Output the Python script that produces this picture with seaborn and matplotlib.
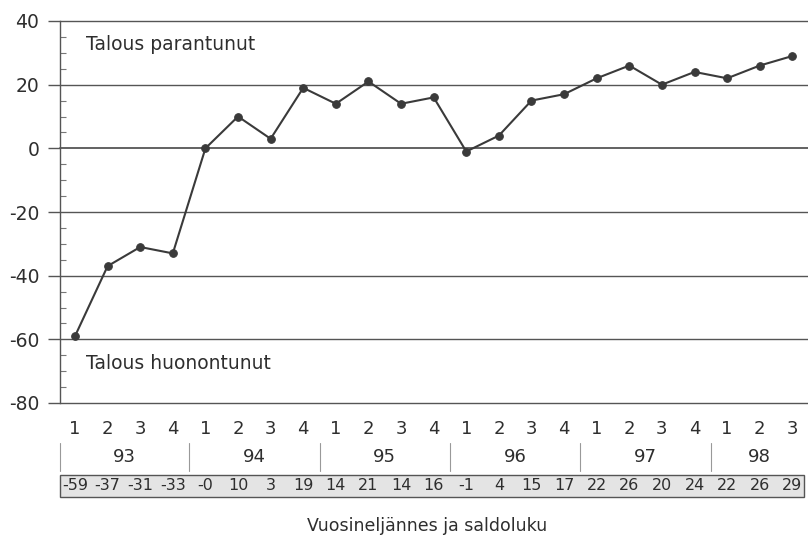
import matplotlib
matplotlib.use("Agg")
import matplotlib.pyplot as plt
import matplotlib.transforms as mtransforms
from matplotlib.patches import Rectangle
import seaborn as sns
import pandas as pd

# data
years = ["93", "94", "95", "96", "97", "98"]
quarters = [1, 2, 3, 4, 1, 2, 3, 4, 1, 2, 3, 4, 1, 2, 3, 4, 1, 2, 3, 4, 1, 2, 3]
saldo = [-59, -37, -31, -33, 0, 10, 3, 19, 14, 21, 14, 16, -1, 4, 15, 17,
         22, 26, 20, 24, 22, 26, 29]
saldo_labels = ["-59", "-37", "-31", "-33", "-0", "10", "3", "19", "14", "21", "14", "16",
                "-1", "4", "15", "17", "22", "26", "20", "24", "22", "26", "29"]

df = pd.DataFrame({"idx": range(len(saldo)), "saldo": saldo})

sns.set_style("white")
plt.rcParams['font.family'] = ['Liberation Sans Narrow', 'DejaVu Sans']
plt.rcParams['axes.unicode_minus'] = False
txt = "#2e2e2e"

fig = plt.figure(figsize=(8.08, 5.42), dpi=100)
ax = fig.add_axes([60/808, 139/542, 748/808, 382/542])

# gridlines
for y in range(-80, 41, 20):
    ax.axhline(y, color="#555555", lw=1.3 if y == 0 else 1.0, zorder=1, clip_on=False)

sns.lineplot(data=df, x="idx", y="saldo", ax=ax, color="#3a3a3a", lw=1.5,
             marker="o", markersize=5.5, markeredgecolor="#3a3a3a", zorder=3)

ax.set_xlim(-0.46, 22.48)
ax.set_ylim(-80, 40)
ax.set_yticks(range(-80, 41, 20))
ax.set_yticks(range(-80, 41, 5), minor=True)
ax.tick_params(axis="y", which="major", direction="out", length=9, width=1,
               color="#555555", labelsize=13.5, labelcolor=txt, pad=6, left=True)
ax.tick_params(axis="y", which="minor", direction="in", length=4, width=0.8,
               color="#777777", left=True)
ax.set_xticks([])
ax.set_xlabel("")
ax.set_ylabel("")
for s in ["top", "right", "bottom"]:
    ax.spines[s].set_visible(False)
ax.spines["left"].set_color("#555555")
ax.spines["left"].set_linewidth(1.0)

ax.text(0.33, 32.5, "Talous parantunut", fontsize=13.5, color=txt, va="center")
ax.text(0.33, -67.5, "Talous huonontunut", fontsize=13.5, color=txt, va="center")

# table under the axis
trans = mtransforms.blended_transform_factory(ax.transData, ax.transAxes)
for i, q in enumerate(quarters):
    ax.text(i, -0.068, str(q), transform=trans, ha="center", va="center",
            fontsize=13, color=txt, clip_on=False)

for k, yr in enumerate(years):
    start = 4 * k
    end = min(4 * k + 3, len(saldo) - 1)
    ax.text((start + end) / 2, -0.141, yr, transform=trans, ha="center", va="center",
            fontsize=13, color=txt, clip_on=False)
    sep = start - 0.5 if k > 0 else -0.46
    ax.plot([sep, sep], [-0.105, -0.178], transform=trans, color="#999999",
            lw=0.8, clip_on=False)

box = Rectangle((-0.46, -0.246), 22.36 + 0.46, 0.058, transform=trans,
                facecolor="#e4e4e4", edgecolor="#555555", lw=1.0, clip_on=False)
ax.add_patch(box)
for i, lab in enumerate(saldo_labels):
    ax.text(i, -0.217, lab, transform=trans, ha="center", va="center",
            fontsize=11.5, color=txt, clip_on=False)

ax.text(10.8, -0.322, "Vuosineljännes ja saldoluku", transform=trans, ha="center",
        va="center", fontsize=12.5, color=txt, clip_on=False)

fig.savefig("out.png", dpi=100)
